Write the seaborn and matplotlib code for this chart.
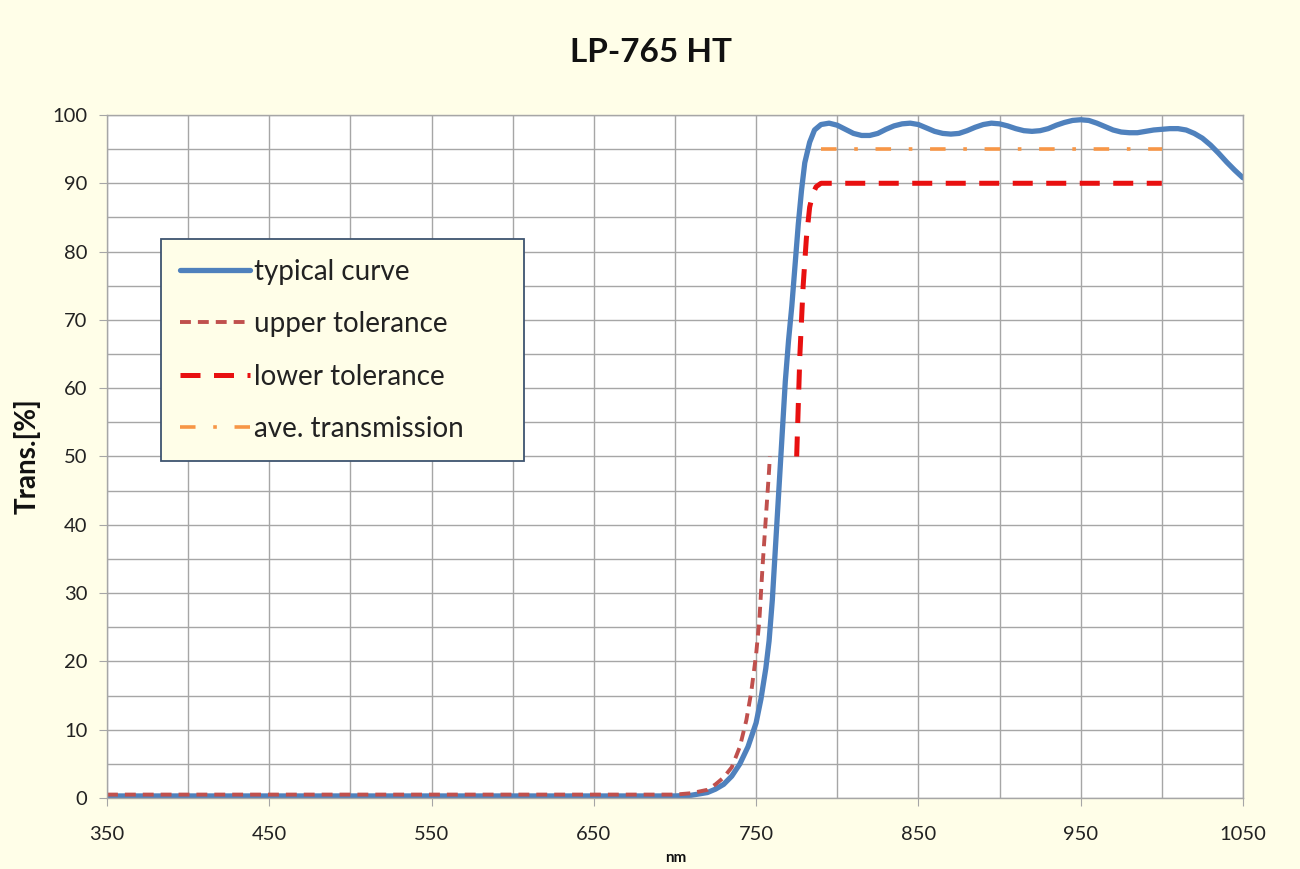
import matplotlib
matplotlib.use("Agg")
import matplotlib.pyplot as plt
import seaborn as sns
from matplotlib.ticker import MultipleLocator, FixedLocator

sns.set_style("white")
plt.rcParams['font.family'] = ['Lato', 'DejaVu Sans']

# typical curve
typ_nm = [350, 700, 710, 720, 725, 730, 735, 740, 745, 750, 753, 756, 758, 760,
          762, 764, 766, 768, 770, 772, 774, 776, 778, 780, 783, 786, 790, 795,
          800, 805, 810, 815, 820, 825, 830, 835, 840, 845, 850, 855, 860, 865,
          870, 875, 880, 885, 890, 895, 900, 905, 910, 915, 920, 925, 930, 935,
          940, 945, 950, 955, 960, 965, 970, 975, 980, 985, 990, 995, 1000, 1005,
          1010, 1015, 1020, 1025, 1030, 1035, 1040, 1045, 1050]
typ_val = [0.3, 0.3, 0.4, 0.8, 1.3, 2.0, 3.2, 5.0, 7.5, 11, 14.5, 19, 23, 29,
           37, 45, 53, 61, 67, 72, 78, 84, 89, 93, 96, 97.8, 98.6, 98.8,
           98.5, 97.9, 97.3, 97.0, 97.0, 97.3, 97.9, 98.4, 98.7, 98.8, 98.6, 98.1, 97.6, 97.3,
           97.2, 97.3, 97.7, 98.2, 98.6, 98.8, 98.7, 98.4, 98.0, 97.7, 97.6, 97.7, 98.0, 98.5,
           98.9, 99.2, 99.3, 99.2, 98.8, 98.3, 97.8, 97.5, 97.4, 97.4, 97.6, 97.8, 97.9, 98.0,
           98.0, 97.8, 97.3, 96.6, 95.6, 94.4, 93.1, 91.9, 90.8]

# upper tolerance
up_nm = [350, 700, 710, 720, 725, 730, 735, 740, 744, 747, 750, 752, 754, 756, 758, 758.5]
up_val = [0.5, 0.5, 0.7, 1.2, 2, 3, 4.5, 7.5, 11.4, 15.5, 21, 26, 34, 41, 48, 50]

# lower tolerance
low_nm = [775, 777, 779, 781, 783, 785, 787, 790, 1000]
low_val = [50, 65, 75, 82, 86.5, 88.5, 89.5, 90, 90]

# average transmission
ave_nm = [790, 1000]
ave_val = [95, 95]

x_ticks = [350, 450, 550, 650, 750, 850, 950, 1050]

bg = '#FFFEE8'
fig = plt.figure(figsize=(13, 8.69), dpi=100, facecolor=bg)
ax = fig.add_axes([0.0823, 0.0817, 0.8738, 0.786])
ax.set_facecolor('white')

sns.lineplot(x=typ_nm, y=typ_val, ax=ax, color='#4F81BD', lw=3.8,
             label='typical curve', sort=False)
sns.lineplot(x=up_nm, y=up_val, ax=ax, color='#C0504D', lw=2.8,
             linestyle=(0, (2.8, 1.8)), label='upper tolerance', sort=False)
sns.lineplot(x=low_nm, y=low_val, ax=ax, color='#E81010', lw=3.6,
             linestyle=(0, (4, 2.7)), label='lower tolerance', sort=False)
sns.lineplot(x=ave_nm, y=ave_val, ax=ax, color='#F79646', lw=2.6,
             linestyle=(0, (4.3, 4.9, 1, 4.9)), label='ave. transmission', sort=False)

ax.set_xlim(350, 1050)
ax.set_ylim(0, 100)
ax.xaxis.set_major_locator(FixedLocator(x_ticks))
ax.xaxis.set_minor_locator(MultipleLocator(50))
ax.yaxis.set_major_locator(MultipleLocator(10))
ax.yaxis.set_minor_locator(MultipleLocator(5))
ax.grid(which='both', color='#A6A6A6', lw=1)
ax.set_axisbelow(True)
for s in ax.spines.values():
    s.set_color('#A6A6A6')
    s.set_linewidth(1)
ax.tick_params(axis='both', which='major', labelsize=14.5, colors='#A6A6A6',
               labelcolor='#222222', length=6, direction='out')
ax.tick_params(axis='both', which='minor', length=0)
ax.tick_params(axis='x', pad=14)
ax.tick_params(axis='y', left=True, pad=8)
ax.tick_params(axis='x', bottom=True)

fig.text(0.501, 0.94, 'LP-765 HT', ha='center', va='center',
         fontsize=24, fontweight='bold', color='#111111')
fig.text(0.021, 0.475, 'Trans.[%]', ha='center', va='center', rotation=90,
         fontsize=20, fontweight='bold', color='#111111')
fig.text(0.52, 0.013, 'nm', ha='center', va='center',
         fontsize=11, fontweight='bold', color='#111111')
ax.set_xlabel('')
ax.set_ylabel('')

leg = ax.legend(loc='upper left', bbox_to_anchor=(0.0475, 0.5, 0.32, 0.318),
                mode='expand', fontsize=20, frameon=True, fancybox=False,
                framealpha=1, facecolor=bg, edgecolor='#3E5470',
                handlelength=2.5, handletextpad=0.15, labelspacing=0.95,
                borderpad=0.7, borderaxespad=0)
leg.get_frame().set_linewidth(1.3)
for t in leg.get_texts():
    t.set_color('#222222')

fig.savefig('out.png', dpi=100, facecolor=bg)
